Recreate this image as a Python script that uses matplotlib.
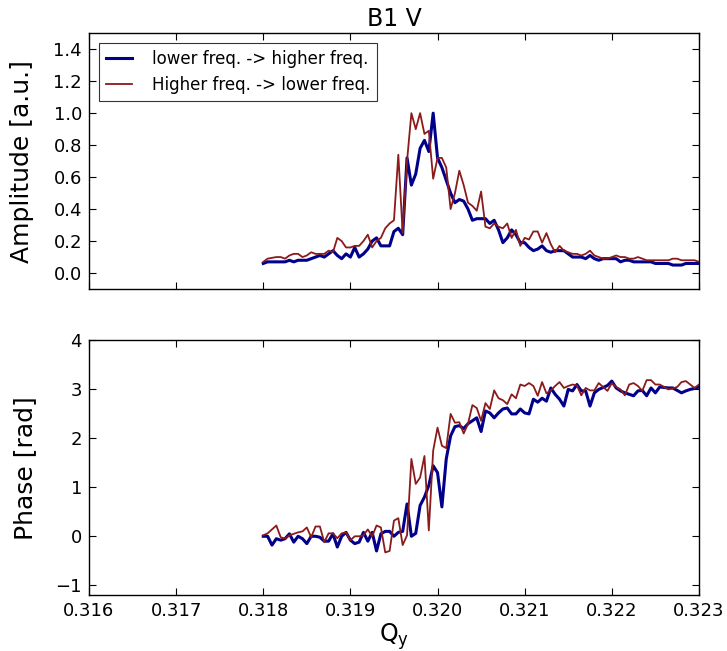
import numpy as np
import matplotlib
matplotlib.use('Agg')
import matplotlib.pyplot as plt
from matplotlib.ticker import FormatStrFormatter

# tune scan: 101 steps from 0.318 to 0.323
q_start = 0.318
q_step = 0.00005

amp_up = [0.06, 0.07, 0.07, 0.07, 0.07, 0.07, 0.08, 0.07, 0.08, 0.08,
          0.08, 0.09, 0.10, 0.11, 0.10, 0.12, 0.14, 0.11, 0.09, 0.12,
          0.10, 0.16, 0.10, 0.12, 0.15, 0.20, 0.22, 0.17, 0.17, 0.17,
          0.26, 0.28, 0.24, 0.72, 0.55, 0.62, 0.78, 0.83, 0.76, 1.00,
          0.72, 0.66, 0.58, 0.50, 0.44, 0.46, 0.45, 0.40, 0.33, 0.34,
          0.34, 0.34, 0.31, 0.33, 0.27, 0.19, 0.22, 0.27, 0.24, 0.19,
          0.19, 0.16, 0.14, 0.15, 0.17, 0.14, 0.13, 0.14, 0.14, 0.14,
          0.12, 0.10, 0.10, 0.10, 0.09, 0.11, 0.09, 0.08, 0.09, 0.09,
          0.09, 0.09, 0.07, 0.08, 0.08, 0.07, 0.07, 0.07, 0.07, 0.07,
          0.06, 0.06, 0.06, 0.06, 0.05, 0.05, 0.05, 0.06, 0.06, 0.06,
          0.06]

amp_down = [0.07, 0.09, 0.095, 0.10, 0.10, 0.09, 0.11, 0.12, 0.12, 0.10,
            0.11, 0.13, 0.12, 0.12, 0.12, 0.14, 0.13, 0.22, 0.20, 0.16,
            0.16, 0.17, 0.17, 0.20, 0.24, 0.16, 0.20, 0.22, 0.28, 0.31,
            0.33, 0.74, 0.25, 0.70, 1.00, 0.90, 1.00, 0.87, 0.89, 0.59,
            0.72, 0.72, 0.66, 0.40, 0.50, 0.64, 0.55, 0.44, 0.42, 0.39,
            0.51, 0.29, 0.28, 0.31, 0.29, 0.28, 0.31, 0.22, 0.27, 0.17,
            0.22, 0.21, 0.26, 0.26, 0.19, 0.25, 0.18, 0.13, 0.17, 0.14,
            0.13, 0.12, 0.12, 0.11, 0.12, 0.14, 0.11, 0.10, 0.09, 0.09,
            0.10, 0.11, 0.10, 0.10, 0.09, 0.09, 0.10, 0.09, 0.08, 0.08,
            0.08, 0.08, 0.08, 0.08, 0.09, 0.09, 0.08, 0.08, 0.08, 0.08,
            0.07]

phase_up = [0.00, 0.00, -0.18, -0.05, -0.08, -0.05, 0.05, -0.12, 0.00, -0.05,
            -0.15, 0.00, 0.00, -0.02, -0.10, -0.10, 0.05, -0.22, 0.00, 0.08,
            -0.08, -0.15, -0.12, 0.08, -0.10, 0.08, -0.30, 0.05, 0.10, 0.10,
            0.00, 0.08, 0.10, 0.66, 0.00, 0.06, 0.63, 0.80, 1.04, 1.44,
            1.30, 0.60, 1.58, 2.05, 2.24, 2.26, 2.20, 2.30, 2.36, 2.42,
            2.14, 2.56, 2.52, 2.42, 2.52, 2.60, 2.62, 2.50, 2.50, 2.60,
            2.52, 2.50, 2.80, 2.74, 2.82, 2.76, 3.03, 2.90, 2.80, 2.66,
            3.00, 2.97, 3.10, 2.97, 2.97, 2.66, 2.93, 3.00, 3.04, 3.08,
            3.17, 3.03, 2.97, 2.93, 2.90, 2.87, 2.97, 2.98, 2.87, 3.03,
            2.93, 3.05, 3.04, 3.03, 3.03, 2.98, 2.93, 2.97, 3.00, 3.02,
            3.05]

phase_down = [0.02, 0.06, 0.14, 0.22, -0.02, -0.05, 0.02, 0.05, 0.08, 0.10,
              0.18, -0.02, 0.20, 0.20, -0.12, 0.06, 0.06, -0.04, 0.06, 0.08,
              -0.08, 0.00, 0.00, 0.02, 0.14, 0.00, 0.22, 0.18, -0.33, -0.30,
              0.32, 0.37, -0.18, 0.02, 1.58, 1.07, 1.20, 1.64, 0.12, 1.75,
              2.22, 1.85, 1.80, 2.50, 2.32, 2.33, 2.10, 2.30, 2.68, 2.62,
              2.36, 2.72, 2.60, 2.98, 2.82, 2.78, 2.70, 2.90, 2.82, 3.10,
              3.07, 3.13, 3.07, 2.87, 3.15, 2.92, 2.98, 3.07, 3.15, 3.03,
              3.07, 3.10, 3.08, 2.88, 3.03, 2.98, 2.98, 3.13, 3.05, 2.97,
              3.13, 3.05, 3.00, 2.88, 3.10, 3.13, 3.07, 2.97, 3.19, 3.19,
              3.10, 3.10, 3.05, 3.00, 3.02, 3.05, 3.15, 3.17, 3.10, 3.03,
              3.10]

amp_ticks = [0.0, 0.2, 0.4, 0.6, 0.8, 1.0, 1.2, 1.4]
phase_ticks = [-1, 0, 1, 2, 3, 4]
q_ticks = [0.316, 0.317, 0.318, 0.319, 0.320, 0.321, 0.322, 0.323]

blue = '#00008b'
red = '#8b1a1a'

q = q_start + q_step * np.arange(len(amp_up))

fig = plt.figure(figsize=(7.27, 6.51), dpi=100)
ax1 = fig.add_axes([0.1224, 0.556, 0.839, 0.393])
ax2 = fig.add_axes([0.1224, 0.0860, 0.839, 0.391], sharex=ax1)

ax1.plot(q, amp_up, color=blue, lw=2.2, label='lower freq. -> higher freq.')
ax1.plot(q, amp_down, color=red, lw=1.3, label='Higher freq. -> lower freq.')
ax2.plot(q, phase_up, color=blue, lw=2.2)
ax2.plot(q, phase_down, color=red, lw=1.3)

ax1.set_ylim(-0.1, 1.5)
ax1.set_yticks(amp_ticks)
ax1.yaxis.set_major_formatter(FormatStrFormatter('%.1f'))
ax1.set_ylabel('Amplitude [a.u.]', fontsize=18, labelpad=14)
ax1.set_title('B1 V', fontsize=17, pad=5)
leg = ax1.legend(loc='upper left', fontsize=12, fancybox=False,
                 handlelength=1.6, handletextpad=1.2, borderaxespad=0.6)
leg.get_frame().set_edgecolor('black')
leg.get_frame().set_linewidth(0.8)

ax2.set_ylim(-1.2, 4)
ax2.set_yticks(phase_ticks)
ax2.set_ylabel('Phase [rad]', fontsize=18, labelpad=13)
ax2.set_xlim(0.316, 0.323)
ax2.set_xticks(q_ticks)
ax2.xaxis.set_major_formatter(FormatStrFormatter('%.3f'))
ax2.set_xlabel(r'$\mathregular{Q_y}$', fontsize=17, labelpad=1)

for ax in (ax1, ax2):
    ax.tick_params(direction='in', top=True, right=True, length=5,
                   width=0.8, labelsize=13, pad=5)
    for sp in ax.spines.values():
        sp.set_linewidth(1.0)
plt.setp(ax1.get_xticklabels(), visible=False)

fig.savefig('out.png', dpi=100, facecolor='white')
